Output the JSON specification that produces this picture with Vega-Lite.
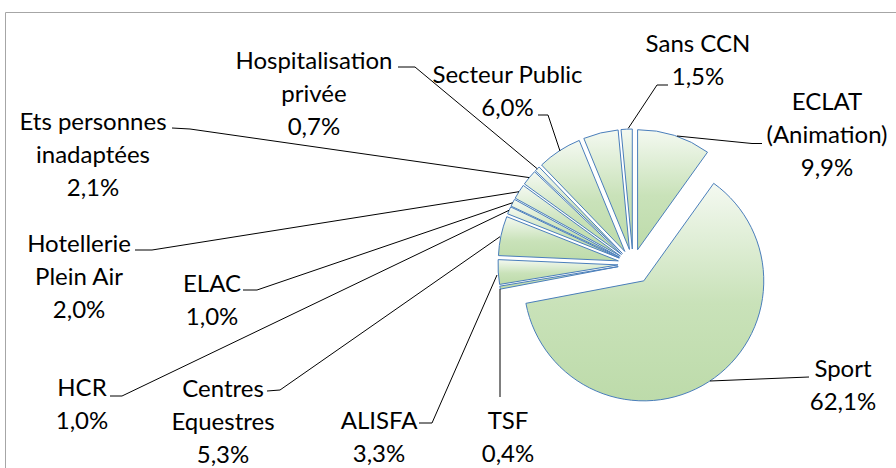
{
  "$schema": "https://vega.github.io/schema/vega-lite/v6.json",
  "width": 1256,
  "height": 504,
  "autosize": "none",
  "padding": {"left": 5, "top": 12, "right": -365, "bottom": -48},
  "background": "white",
  "view": {"stroke": "#a6a6a6", "strokeWidth": 1, "fill": "white"},
  "data": {
    "values": [
      {"category": "ECLAT (Animation)", "value": 9.9, "label": "ECLAT\n(Animation)\n9,9%"},
      {"category": "Sport", "value": 62.1, "label": "Sport\n62,1%"},
      {"category": "TSF", "value": 0.4, "label": "TSF\n0,4%"},
      {"category": "ALISFA", "value": 3.3, "label": "ALISFA\n3,3%"},
      {"category": "Centres Equestres", "value": 5.3, "label": "Centres\nEquestres\n5,3%"},
      {"category": "HCR", "value": 1.0, "label": "HCR\n1,0%"},
      {"category": "ELAC", "value": 1.0, "label": "ELAC\n1,0%"},
      {"category": "Hotellerie Plein Air", "value": 2.0, "label": "Hotellerie\nPlein Air\n2,0%"},
      {"category": "Ets personnes inadaptées", "value": 2.1, "label": "Ets personnes\ninadaptées\n2,1%"},
      {"category": "Hospitalisation privée", "value": 0.7, "label": "Hospitalisation\nprivée\n0,7%"},
      {"category": "Secteur Public", "value": 6.0, "label": "Secteur Public\n6,0%"},
      {"category": "Autres", "value": 4.7, "label": ""},
      {"category": "Sans CCN", "value": 1.5, "label": "Sans CCN\n1,5%"}
    ]
  },
  "transform": [{"stack": "value", "groupby": [], "as": ["v0", "v1"]}],
  "resolve": {"scale": {"theta": "independent", "radius": "independent", "x": "independent", "y": "independent"}},
  "layer": [
    {
      "transform": [{"filter": "datum.category !== 'Sport'"}],
      "mark": {
        "type": "arc", "radius": 120, "stroke": "#4a7ebb", "strokeWidth": 1,
        "xOffset": {"expr": "15 * sin(PI * (datum.v0 + datum.v1) / 100)"},
        "yOffset": {"expr": "-15 * cos(PI * (datum.v0 + datum.v1) / 100)"},
        "fill": {"gradient": "linear", "x1": 0, "y1": 0, "x2": 0, "y2": 1,
          "stops": [{"offset": 0, "color": "#f4f9f1"}, {"offset": 0.55, "color": "#c9e2b9"}, {"offset": 1, "color": "#bddbaa"}]}
      },
      "encoding": {
        "theta": {"field": "v0", "type": "quantitative", "stack": null, "scale": {"domain": [0, 100]}},
        "theta2": {"field": "v1"}
      }
    },
    {
      "transform": [{"filter": "datum.category === 'Sport'"}],
      "mark": {
        "type": "arc", "radius": 120, "stroke": "#4a7ebb", "strokeWidth": 1,
        "xOffset": {"expr": "20 * sin(PI * (datum.v0 + datum.v1) / 100)"},
        "yOffset": {"expr": "-20 * cos(PI * (datum.v0 + datum.v1) / 100)"},
        "fill": {"gradient": "linear", "x1": 0, "y1": 0, "x2": 0, "y2": 1,
          "stops": [{"offset": 0, "color": "#f4f9f1"}, {"offset": 0.55, "color": "#c9e2b9"}, {"offset": 1, "color": "#bddbaa"}]}
      },
      "encoding": {
        "theta": {"field": "v0", "type": "quantitative", "stack": null, "scale": {"domain": [0, 100]}},
        "theta2": {"field": "v1"}
      }
    },
    {
      "transform": [{"filter": "indexof(['ECLAT (Animation)','TSF','Centres Equestres','ELAC','Ets personnes inadaptées','Secteur Public','Sans CCN'], datum.category) >= 0"}],
      "mark": {"type": "rule", "stroke": "#000000", "strokeWidth": 1},
      "encoding": {
        "x": {"field": "v0", "type": "quantitative", "axis": null,
          "scale": {"domain": [0, 9.9, 72, 72.4, 75.7, 81, 82, 83, 85, 87.1, 87.8, 93.8, 98.5, 100],
                    "range": [672, 747, 495, 495, 495, 275, 507.7, 252, 524.3, 185, 555, 543, 623.3, 652]}},
        "x2": {"field": "v1"},
        "y": {"field": "v0", "type": "quantitative", "axis": null,
          "scale": {"domain": [0, 9.9, 72, 72.4, 75.7, 81, 82, 83, 85, 87.1, 87.8, 93.8, 98.5, 100],
                    "range": [124, 131.5, 277, 385, 224.7, 378, 190.7, 278, 165.6, 117, 139, 103, 116.3, 73]}},
        "y2": {"field": "v1"}
      }
    },
    {
      "transform": [{"filter": "indexof(['Sport','ALISFA','HCR','Hotellerie Plein Air','Hospitalisation privée'], datum.category) >= 0"}],
      "mark": {"type": "rule", "stroke": "#000000", "strokeWidth": 1},
      "encoding": {
        "x": {"field": "v0", "type": "quantitative", "axis": null,
          "scale": {"domain": [9.9, 72, 72.4, 75.7, 81, 82, 83, 85, 87.1, 87.8],
                    "range": [705, 804, 492, 427, 504, 117, 514, 147, 532.3, 410]}},
        "x2": {"field": "v1"},
        "y": {"field": "v0", "type": "quantitative", "axis": null,
          "scale": {"domain": [9.9, 72, 72.4, 75.7, 81, 82, 83, 85, 87.1, 87.8],
                    "range": [369, 365, 263, 411, 198.3, 384, 179.7, 238, 156.8, 55]}},
        "y2": {"field": "v1"}
      }
    },
    {
      "transform": [{"filter": "indexof(['ECLAT (Animation)','Centres Equestres','ELAC','Ets personnes inadaptées','Secteur Public','Sans CCN'], datum.category) >= 0"}],
      "mark": {"type": "rule", "stroke": "#000000", "strokeWidth": 1},
      "encoding": {
        "x": {"field": "v0", "type": "quantitative", "axis": null,
          "scale": {"domain": [0, 9.9, 75.7, 81, 82, 83, 85, 87.1, 87.8, 93.8, 98.5, 100],
                    "range": [747, 757, 275, 262, 252, 238, 185, 167, 543, 533, 652, 663]}},
        "x2": {"field": "v1"},
        "y": {"field": "v0", "type": "quantitative", "axis": null,
          "scale": {"domain": [0, 9.9, 75.7, 81, 82, 83, 85, 87.1, 87.8, 93.8, 98.5, 100],
                    "range": [131.5, 131.5, 378, 379, 278, 278, 117, 116, 103, 103, 73, 73]}},
        "y2": {"field": "v1"}
      }
    },
    {
      "transform": [{"filter": "indexof(['ALISFA','HCR','Hotellerie Plein Air','Hospitalisation privée'], datum.category) >= 0"}],
      "mark": {"type": "rule", "stroke": "#000000", "strokeWidth": 1},
      "encoding": {
        "x": {"field": "v0", "type": "quantitative", "axis": null,
          "scale": {"domain": [72.4, 75.7, 81, 82, 83, 85, 87.1, 87.8],
                    "range": [427, 414, 117, 105, 147, 130, 410, 393]}},
        "x2": {"field": "v1"},
        "y": {"field": "v0", "type": "quantitative", "axis": null,
          "scale": {"domain": [72.4, 75.7, 81, 82, 83, 85, 87.1, 87.8],
                    "range": [411, 411, 384, 384, 238, 238, 55, 55]}},
        "y2": {"field": "v1"}
      }
    },
    {
      "transform": [{"filter": "datum.label !== ''"}],
      "mark": {
        "type": "text", "font": "Lato", "fontSize": 24, "lineHeight": 33, "lineBreak": "\n",
        "align": "center", "baseline": "middle", "fill": "#000000"
      },
      "encoding": {
        "theta": {
          "field": "v1", "type": "quantitative", "stack": null,
          "scale": {"type": "linear",
            "domain": [9.9, 72, 72.4, 75.7, 81, 82, 83, 85, 87.1, 87.8, 93.8, 100],
            "range": [0.87808, 2.03819, 3.81093, 4.15598, 4.41429, 4.48934, 4.66247, 4.74660, 4.96774, 5.27683, 5.69449, 6.57169]}
        },
        "radius": {
          "field": "v1", "type": "quantitative",
          "scale": {"type": "linear",
            "domain": [9.9, 72, 72.4, 75.7, 81, 82, 83, 85, 87.1, 87.8, 93.8, 100],
            "range": [252.1, 235.2, 201.5, 299.1, 428.9, 565.0, 421.5, 554.3, 558.1, 377.6, 226.0, 228.4]}
        },
        "text": {"field": "label"}
      }
    }
  ]
}
